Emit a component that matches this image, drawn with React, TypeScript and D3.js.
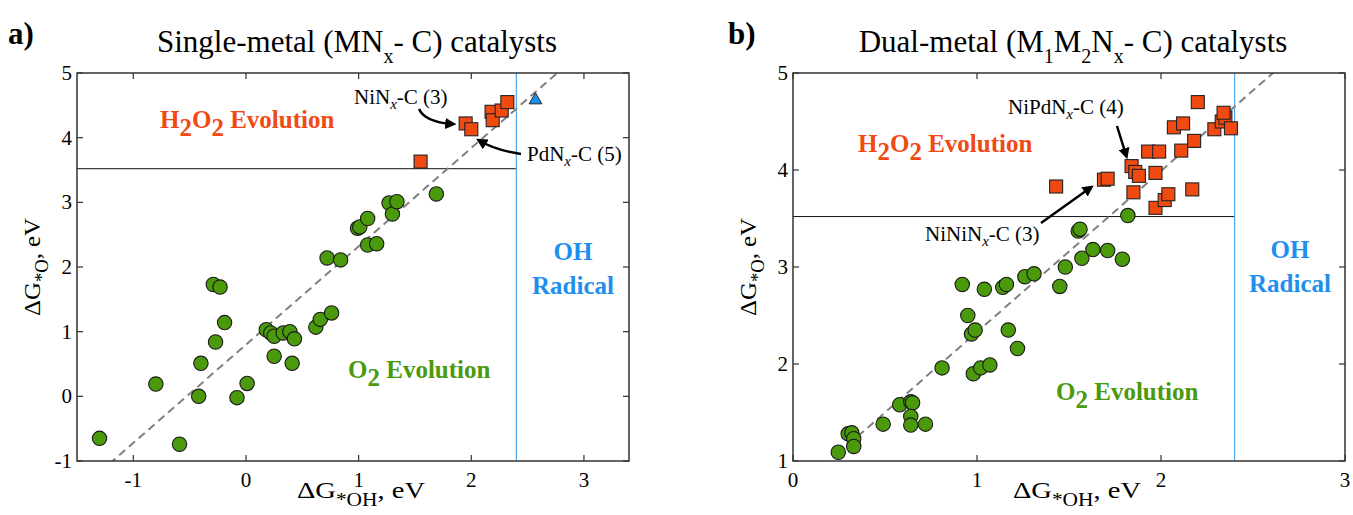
import React from 'react';
import * as d3 from 'd3';

// ---- panel a: single-metal catalysts ----
const singleO2: [number, number][] = [
  [-1.3, -0.65], [-0.8, 0.19], [-0.59, -0.74], [-0.42, 0.0], [-0.4, 0.51],
  [-0.29, 1.73], [-0.23, 1.69], [-0.27, 0.84], [-0.19, 1.14], [-0.08, -0.02],
  [0.01, 0.2], [0.18, 1.03], [0.22, 0.98], [0.25, 0.93], [0.33, 0.98],
  [0.39, 1.0], [0.43, 0.89], [0.25, 0.62], [0.41, 0.51], [0.62, 1.07],
  [0.66, 1.19], [0.76, 1.29], [0.72, 2.14], [0.84, 2.11], [0.99, 2.6],
  [1.01, 2.62], [1.08, 2.75], [1.08, 2.34], [1.16, 2.36], [1.27, 2.99],
  [1.3, 2.82], [1.34, 3.01], [1.69, 3.13],
];
const singleH2O2: [number, number][] = [
  [1.55, 3.63], [1.95, 4.22], [2.0, 4.13], [2.18, 4.4], [2.19, 4.27],
  [2.27, 4.42], [2.32, 4.55],
];
const singleOH: [number, number][] = [[2.57, 4.58]];
const singleFit = { slope: 1.52, intercept: 0.8 };

// ---- panel b: dual-metal catalysts ----
const dualO2: [number, number][] = [
  [0.246, 1.09], [0.3, 1.28], [0.32, 1.29], [0.33, 1.23], [0.33, 1.15],
  [0.49, 1.38], [0.58, 1.58], [0.64, 1.61], [0.65, 1.6], [0.64, 1.46],
  [0.64, 1.37], [0.72, 1.38], [0.81, 1.96], [0.92, 2.82], [0.95, 2.5],
  [0.97, 2.31], [0.99, 2.35], [0.98, 1.9], [1.02, 1.96], [1.07, 1.99],
  [1.04, 2.77], [1.14, 2.79], [1.16, 2.82], [1.17, 2.35], [1.22, 2.16],
  [1.26, 2.9], [1.31, 2.93], [1.45, 2.8], [1.48, 3.0], [1.57, 3.09],
  [1.63, 3.18], [1.71, 3.17], [1.79, 3.08], [1.55, 3.37], [1.56, 3.39],
  [1.82, 3.53],
];
const dualH2O2: [number, number][] = [
  [1.43, 3.83], [1.69, 3.9], [1.71, 3.91], [1.84, 4.04], [1.86, 3.98],
  [1.88, 3.94], [1.85, 3.77], [1.93, 4.19], [1.99, 4.19], [1.97, 3.97],
  [1.97, 3.61], [2.02, 3.69], [2.04, 3.75], [2.07, 4.44], [2.12, 4.48],
  [2.11, 4.2], [2.18, 4.3], [2.17, 3.8], [2.2, 4.7], [2.29, 4.42],
  [2.33, 4.5], [2.35, 4.54], [2.34, 4.59], [2.38, 4.43],
];
const dualFit = { slope: 1.66, intercept: 0.67 };

const singleXTicks = [-1, 0, 1, 2, 3];
const singleYTicks = [-1, 0, 1, 2, 3, 4, 5];
const dualXTicks = [0, 1, 2, 3];
const dualYTicks = [1, 2, 3, 4, 5];

const limitO = 3.52;
const limitOH = 2.4;

const FONT = '"Liberation Serif", "DejaVu Serif", serif';
const GREEN = '#4a9a0c';
const ORANGE = '#f04a12';
const BLUE = '#1e8ff0';

interface Label {
  pre: string;
  post: string;
  x: number;
  y: number;
  arrow: string;
}

interface PanelProps {
  id: string;
  letter: string;
  letterX: number;
  title: React.ReactNode;
  xDomain: [number, number];
  yDomain: [number, number];
  left: number;
  right: number;
  xTicks: number[];
  yTicks: number[];
  o2: [number, number][];
  h2o2: [number, number][];
  oh: [number, number][];
  fit: { slope: number; intercept: number };
  h2o2Pos: [number, number];
  o2Pos: [number, number];
  ohPos: [number, number];
  labels: Label[];
}

const TOP = 73;
const BOTTOM = 461;

const Panel = (p: PanelProps) => {
  const x = d3.scaleLinear().domain(p.xDomain).range([p.left, p.right]);
  const y = d3.scaleLinear().domain(p.yDomain).range([BOTTOM, TOP]);
  const cx = (p.left + p.right) / 2;
  const minX = d3.min(p.o2, (d) => d[0]) as number;
  const fitLine = d3.line<number>()
    .x((v) => x(v))
    .y((v) => y(p.fit.slope * v + p.fit.intercept));
  const sq = 13;

  return (
    <g fontFamily={FONT}>
      <defs>
        <clipPath id={`clip-${p.id}`}>
          <rect x={p.left} y={TOP} width={p.right - p.left} height={BOTTOM - TOP} />
        </clipPath>
      </defs>
      <text x={p.letterX} y={44} fontSize={31} fontWeight="bold">{p.letter}</text>
      <text x={cx + 4} y={52} fontSize={31} textAnchor="middle">{p.title}</text>

      {/* region boundaries */}
      <line x1={p.left} x2={x(limitOH)} y1={y(limitO)} y2={y(limitO)} stroke="#111" strokeWidth={1} />
      <line x1={x(limitOH)} x2={x(limitOH)} y1={TOP} y2={BOTTOM} stroke="#4aa8f0" strokeWidth={1.2} />

      {/* scaling line */}
      <path
        d={fitLine([minX, p.xDomain[1]]) || ''}
        clipPath={`url(#clip-${p.id})`}
        fill="none"
        stroke="#808080"
        strokeWidth={2}
        strokeDasharray="8,5"
      />

      {/* frame + ticks */}
      <rect x={p.left} y={TOP} width={p.right - p.left} height={BOTTOM - TOP} fill="none" stroke="#333" strokeWidth={1.5} />
      {p.xTicks.map((t) => (
        <g key={`xt${t}`}>
          <line x1={x(t)} x2={x(t)} y1={BOTTOM} y2={BOTTOM - 6} stroke="#333" strokeWidth={1.2} />
          <line x1={x(t)} x2={x(t)} y1={TOP} y2={TOP + 6} stroke="#333" strokeWidth={1.2} />
          <text x={x(t)} y={BOTTOM + 26} fontSize={21} textAnchor="middle">{t}</text>
        </g>
      ))}
      {p.yTicks.map((t) => (
        <g key={`yt${t}`}>
          <line x1={p.left} x2={p.left + 6} y1={y(t)} y2={y(t)} stroke="#333" strokeWidth={1.2} />
          <line x1={p.right} x2={p.right - 6} y1={y(t)} y2={y(t)} stroke="#333" strokeWidth={1.2} />
          <text x={p.left - 5} y={y(t) + 7} fontSize={21} textAnchor="end">{t}</text>
        </g>
      ))}

      {/* axis labels */}
      <text x={cx + 8} y={498} fontSize={24} textAnchor="middle" textLength={128} lengthAdjust="spacingAndGlyphs">
        ΔG<tspan dy={8} fontSize={18}>*OH</tspan><tspan dy={-8}>, eV</tspan>
      </text>
      <text
        transform={`translate(${p.left - 37},${(TOP + BOTTOM) / 2}) rotate(-90)`}
        fontSize={24}
        textAnchor="middle"
        textLength={98}
        lengthAdjust="spacingAndGlyphs"
      >
        ΔG<tspan dy={8} fontSize={18}>*O</tspan><tspan dy={-8}>, eV</tspan>
      </text>

      {/* region names */}
      <text x={p.h2o2Pos[0]} y={p.h2o2Pos[1]} fontSize={25} fontWeight="bold" fill={ORANGE}>
        H<tspan dy={8}>2</tspan><tspan dy={-8}>O</tspan><tspan dy={8}>2</tspan><tspan dy={-8}> Evolution</tspan>
      </text>
      <text x={p.o2Pos[0]} y={p.o2Pos[1]} fontSize={25} fontWeight="bold" fill={GREEN}>
        O<tspan dy={8}>2</tspan><tspan dy={-8}> Evolution</tspan>
      </text>
      <text x={p.ohPos[0]} y={p.ohPos[1]} fontSize={25} fontWeight="bold" fill={BLUE} textAnchor="middle">OH</text>
      <text x={p.ohPos[0]} y={p.ohPos[1] + 34} fontSize={25} fontWeight="bold" fill={BLUE} textAnchor="middle">Radical</text>

      {/* markers */}
      {p.o2.map((d, i) => (
        <circle key={`c${i}`} cx={x(d[0])} cy={y(d[1])} r={7.2} fill={GREEN} stroke="#1a1a1a" strokeWidth={1.1} />
      ))}
      {p.h2o2.map((d, i) => (
        <rect key={`s${i}`} x={x(d[0]) - sq / 2} y={y(d[1]) - sq / 2} width={sq} height={sq} fill={ORANGE} stroke="#222" strokeWidth={1.1} />
      ))}
      {p.oh.map((d, i) => (
        <path
          key={`t${i}`}
          transform={`translate(${x(d[0])},${y(d[1])})`}
          d={d3.symbol(d3.symbolTriangle, 70)() || ''}
          fill={BLUE}
          stroke="#222"
          strokeWidth={1}
        />
      ))}

      {/* annotations */}
      {p.labels.map((l, i) => (
        <g key={`l${i}`}>
          <text x={l.x} y={l.y} fontSize={21}>
            {l.pre}<tspan dy={5} fontStyle="italic" fontSize={15}>x</tspan><tspan dy={-5}>{l.post}</tspan>
          </text>
          <path d={l.arrow} fill="none" stroke="#000" strokeWidth={2.5} markerEnd="url(#arrowhead)" />
        </g>
      ))}
    </g>
  );
};

export default function App() {
  return (
    <svg
      width={1353}
      height={515}
      style={{ position: 'absolute', left: 0, top: 0, background: '#fff' }}
    >
      <defs>
        <marker id="arrowhead" viewBox="0 0 10 10" refX={6} refY={5} markerWidth={4.5} markerHeight={4.5} orient="auto">
          <path d="M0,0 L10,5 L0,10 z" fill="#000" />
        </marker>
      </defs>
      <Panel
        id="a"
        letter="a)"
        letterX={8}
        title={<>Single-metal (MN<tspan dy={11} fontSize={20}>x</tspan><tspan dy={-11}>- C) catalysts</tspan></>}
        xDomain={[-1.5, 3.4]}
        yDomain={[-1, 5]}
        left={77}
        right={629}
        xTicks={singleXTicks}
        yTicks={singleYTicks}
        o2={singleO2}
        h2o2={singleH2O2}
        oh={singleOH}
        fit={singleFit}
        h2o2Pos={[160, 128]}
        o2Pos={[348, 378]}
        ohPos={[573, 260]}
        labels={[
          { pre: 'NiN', post: '-C (3)', x: 354, y: 104, arrow: 'M419,109 Q425,122 452,124' },
          { pre: 'PdN', post: '-C (5)', x: 527, y: 161, arrow: 'M521,154 Q495,150 480,141' },
        ]}
      />
      <Panel
        id="b"
        letter="b)"
        letterX={728}
        title={<>Dual-metal (M<tspan dy={11} fontSize={20}>1</tspan><tspan dy={-11}>M</tspan><tspan dy={11} fontSize={20}>2</tspan><tspan dy={-11}>N</tspan><tspan dy={11} fontSize={20}>x</tspan><tspan dy={-11}>- C) catalysts</tspan></>}
        xDomain={[0, 3]}
        yDomain={[1, 5]}
        left={793}
        right={1345}
        xTicks={dualXTicks}
        yTicks={dualYTicks}
        o2={dualO2}
        h2o2={dualH2O2}
        oh={[]}
        fit={dualFit}
        h2o2Pos={[858, 152]}
        o2Pos={[1056, 400]}
        ohPos={[1290, 258]}
        labels={[
          { pre: 'NiPdN', post: '-C (4)', x: 1008, y: 114, arrow: 'M1117,126 L1126,155' },
          { pre: 'NiNiN', post: '-C (3)', x: 925, y: 241, arrow: 'M1041,223 L1090,188' },
        ]}
      />
    </svg>
  );
}
